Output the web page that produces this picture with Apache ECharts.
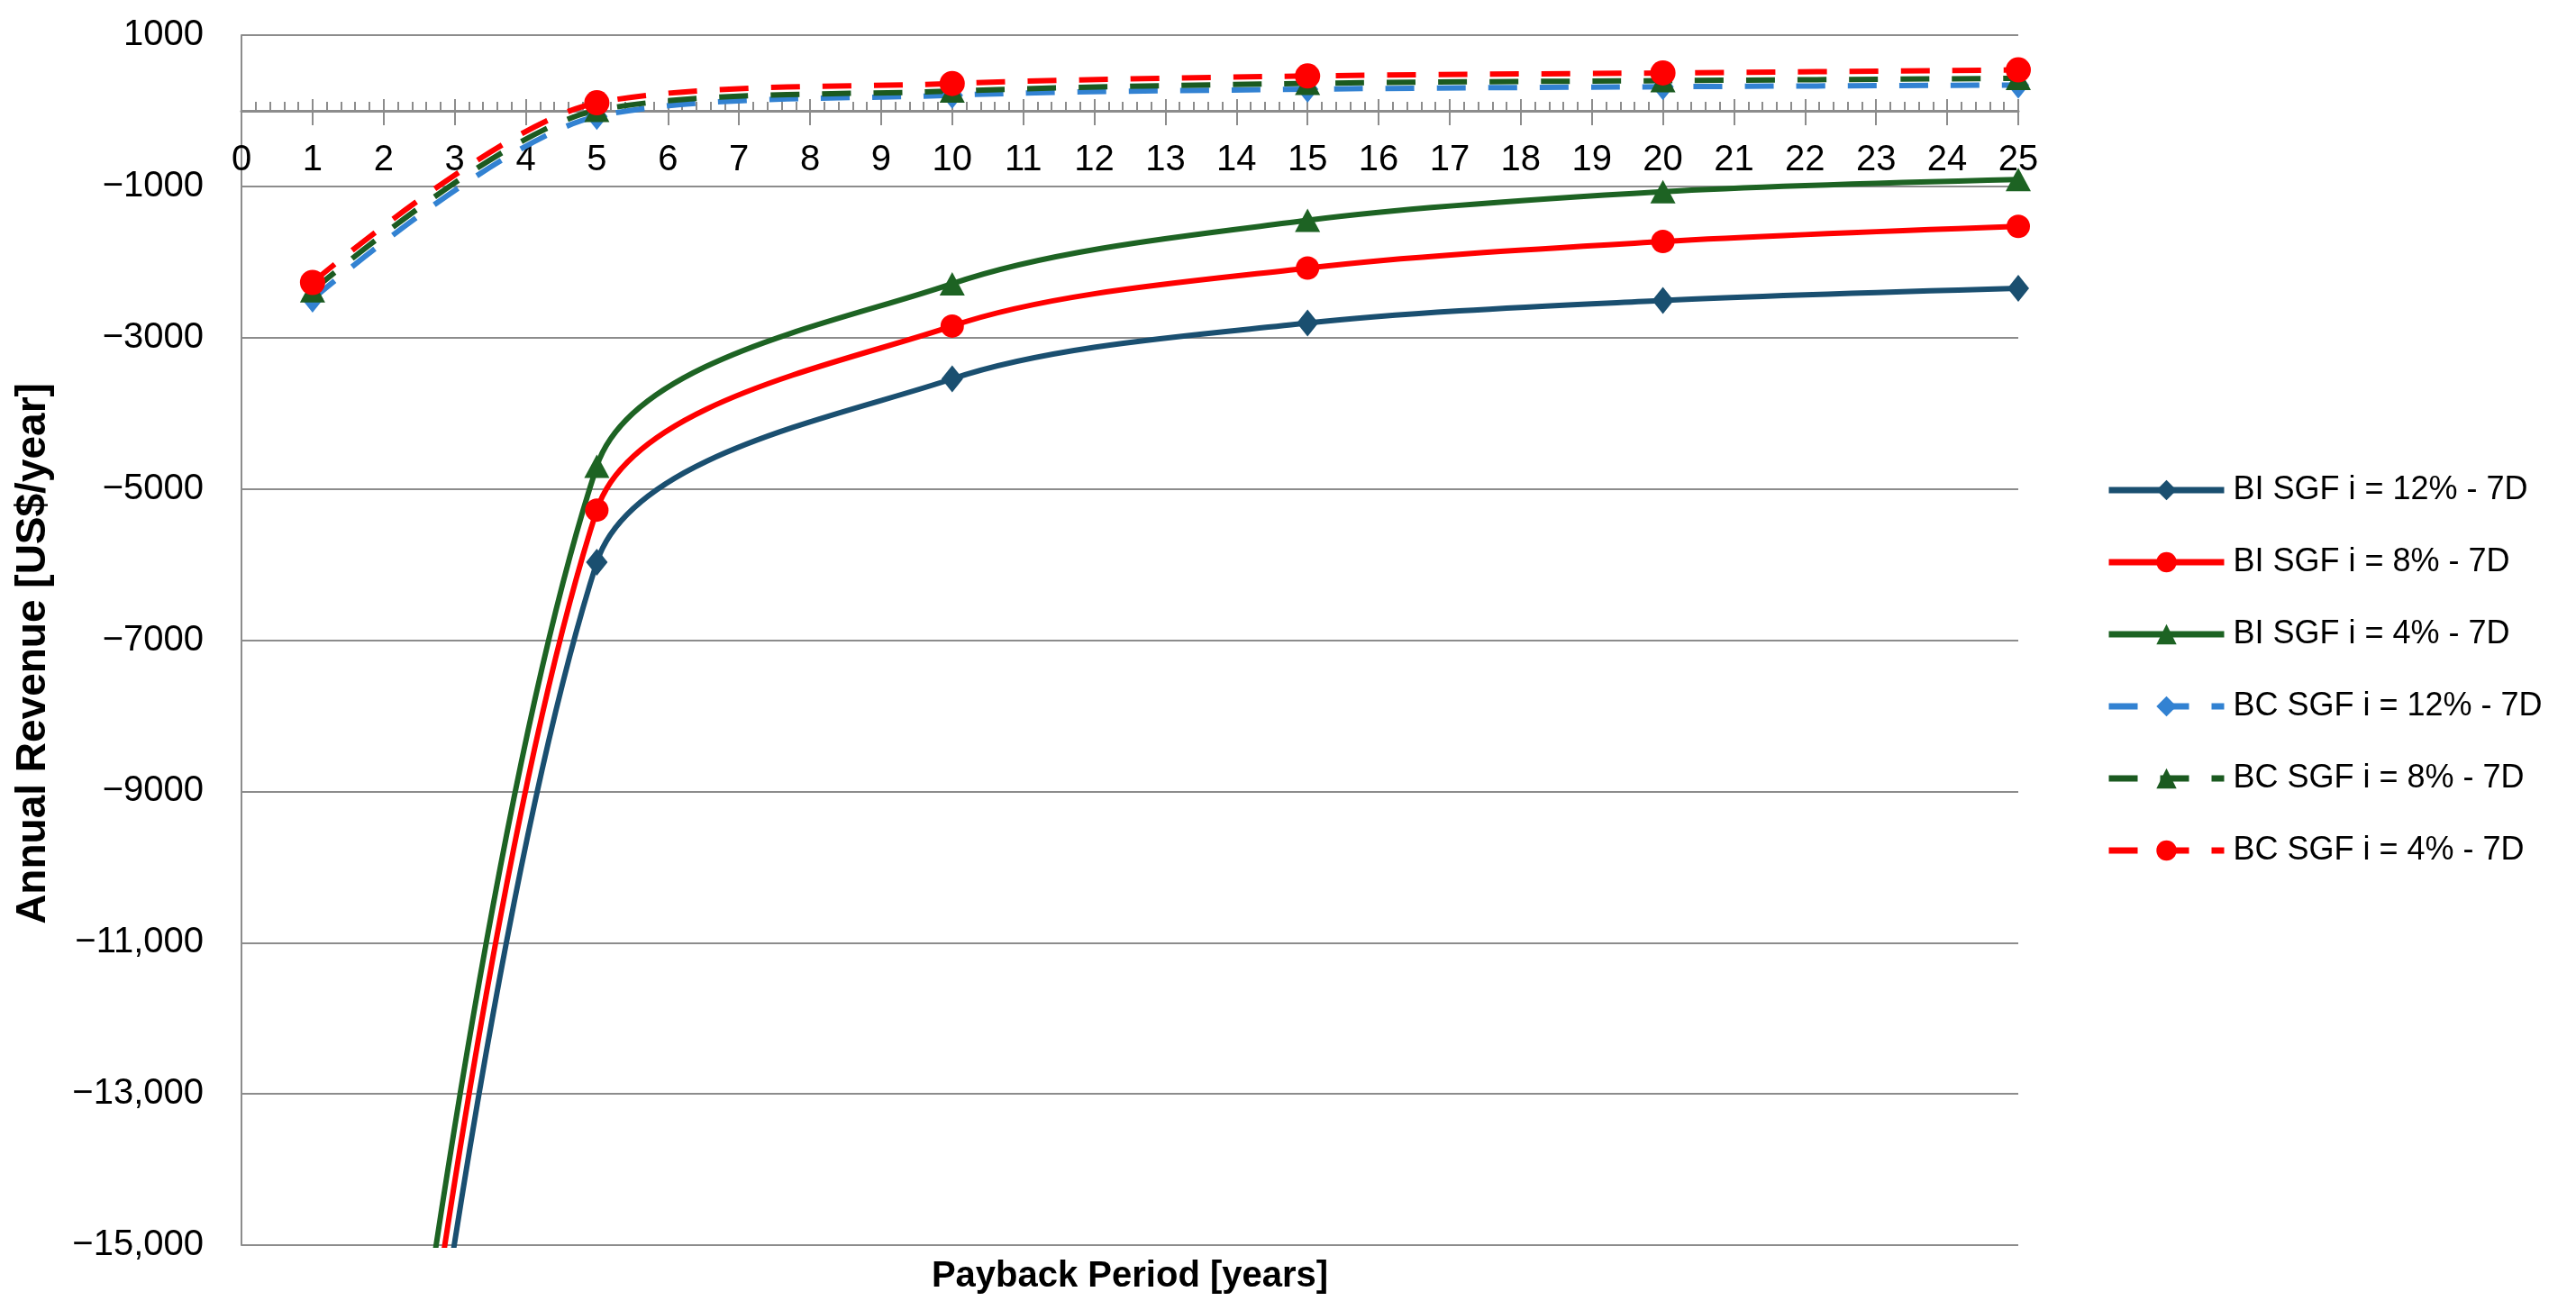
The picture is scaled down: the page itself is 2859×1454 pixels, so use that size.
<!DOCTYPE html>
<html>
<head>
<meta charset="utf-8">
<title>Annual Revenue vs Payback Period</title>
<script src="https://cdn.jsdelivr.net/npm/echarts@6/dist/echarts.min.js"></script>
<style>
  html, body { margin: 0; padding: 0; background: #fff; }
  #chart { width: 2859px; height: 1454px; }
</style>
</head>
<body>
<div id="chart"></div>
<script>
// payback years where values were read
const years = [1, 5, 10, 15, 20, 25]

// BI series (year-1 values sit far below the plot, estimated from where the curves leave it)
const bi12 = [-30000, -5970, -3545, -2807, -2508, -2347]
const bi8 = [-29000, -5280, -2847, -2080, -1729, -1529]
const bi4 = [-28000, -4700, -2287, -1449, -1071, -910]

// BC series
const bc12 = [-2490, -75, 205, 285, 318, 340]
const bc8 = [-2380, 5, 260, 362, 398, 428]
const bc4 = [-2270, 105, 360, 460, 500, 540]

const seriesNames = [
  'BI SGF i = 12% - 7D',
  'BI SGF i = 8% - 7D',
  'BI SGF i = 4% - 7D',
  'BC SGF i = 12% - 7D',
  'BC SGF i = 8% - 7D',
  'BC SGF i = 4% - 7D'
]

// y axis ticks and their labels as printed
const yTicks = [-15000, -13000, -11000, -9000, -7000, -5000, -3000, -1000, 1000]
const yTickLabels = ['\u221215,000', '\u221213,000', '\u221211,000', '\u22129000', '\u22127000', '\u22125000', '\u22123000', '\u22121000', '1000']

const FONT = "'Liberation Sans', Arial, sans-serif"
const gridGrey = '#8c8c8c'

// grid box in px, the x axis is lifted from the bottom edge up to y = 0
const gridTop = 39
const gridBottom = 72
const plotH = 1454 - gridTop - gridBottom
const yMin = -15000
const yMax = 1000
const zeroLift = -plotH * (0 - yMin) / (yMax - yMin)

function pairs(vals) {
  return years.map((x, i) => [x, vals[i]])
}

function lineSeries(name, vals, color, symbol, size, dashed) {
  return {
    name: name,
    type: 'line',
    data: pairs(vals),
    smooth: 0.3,
    clip: true,
    symbol: symbol,
    symbolSize: size,
    showAllSymbol: true,
    lineStyle: {
      color: color,
      width: 6,
      type: dashed ? [32, 25] : 'solid'
    },
    itemStyle: { color: color, borderWidth: 0 },
    emphasis: { disabled: true }
  }
}

const chart = echarts.init(document.getElementById('chart'), null, { renderer: 'canvas' })

const option = {
  animation: false,
  backgroundColor: '#ffffff',
  textStyle: { fontFamily: FONT },
  grid: {
    left: 268,
    right: 619,
    top: gridTop,
    bottom: gridBottom,
    containLabel: false,
    outerBoundsMode: 'none'
  },
  legend: {
    orient: 'vertical',
    left: 2332,
    top: 521,
    itemWidth: 128,
    itemHeight: 28,
    itemGap: 44,
    data: seriesNames,
    lineStyle: { width: 7 },
    textStyle: {
      fontFamily: FONT,
      fontSize: 36,
      color: '#000',
      padding: [0, 0, 0, 5]
    }
  },
  xAxis: [
    {
      type: 'value',
      position: 'bottom',
      offset: zeroLift,
      min: 0,
      max: 25,
      interval: 1,
      name: 'Payback Period [years]',
      nameLocation: 'middle',
      nameGap: 1274,
      nameTextStyle: { fontFamily: FONT, fontSize: 40, fontWeight: 'bold', color: '#000' },
      axisLine: { show: true, onZero: false, lineStyle: { color: gridGrey, width: 3 } },
      axisTick: { show: true, inside: true, length: 13, lineStyle: { color: gridGrey, width: 2 } },
      minorTick: { show: true, splitNumber: 5, length: 10, lineStyle: { color: gridGrey, width: 2 } },
      axisLabel: { fontFamily: FONT, fontSize: 40, color: '#000', margin: 35 },
      splitLine: { show: false },
      minorSplitLine: { show: false }
    },
    {
      // same axis again, only for the downward half of the major ticks
      type: 'value',
      position: 'bottom',
      offset: zeroLift,
      min: 0,
      max: 25,
      interval: 1,
      axisLine: { show: false, onZero: false },
      axisTick: { show: true, inside: false, length: 16, lineStyle: { color: gridGrey, width: 2 } },
      axisLabel: { show: false },
      splitLine: { show: false }
    }
  ],
  yAxis: {
    type: 'value',
    min: yMin,
    max: yMax,
    name: 'Annual Revenue [US$/year]',
    nameLocation: 'middle',
    nameGap: 208,
    nameTextStyle: {
      fontFamily: FONT,
      fontSize: 46,
      fontWeight: 'bold',
      color: '#000',
      padding: [0, 30, 0, 0]
    },
    axisLine: { show: true, onZero: false, lineStyle: { color: gridGrey, width: 2 } },
    axisTick: { show: false, customValues: yTicks },
    axisLabel: {
      customValues: yTicks,
      fontFamily: FONT,
      fontSize: 40,
      color: '#000',
      margin: 42,
      formatter: function (v) {
        const i = yTicks.indexOf(v)
        return i >= 0 ? yTickLabels[i] : ''
      }
    },
    splitLine: { show: true, lineStyle: { color: gridGrey, width: 2 } }
  },
  series: [
    lineSeries(seriesNames[0], bi12, '#1a4f70', 'diamond', [24, 30], false),
    lineSeries(seriesNames[1], bi8, '#ff0000', 'circle', 26, false),
    lineSeries(seriesNames[2], bi4, '#1d6323', 'triangle', [28, 26], false),
    lineSeries(seriesNames[3], bc12, '#3282d2', 'diamond', [24, 30], true),
    lineSeries(seriesNames[4], bc8, '#1b5a20', 'triangle', [28, 26], true),
    lineSeries(seriesNames[5], bc4, '#ff0000', 'circle', 28, true)
  ]
}

chart.setOption(option)
</script>
</body>
</html>
